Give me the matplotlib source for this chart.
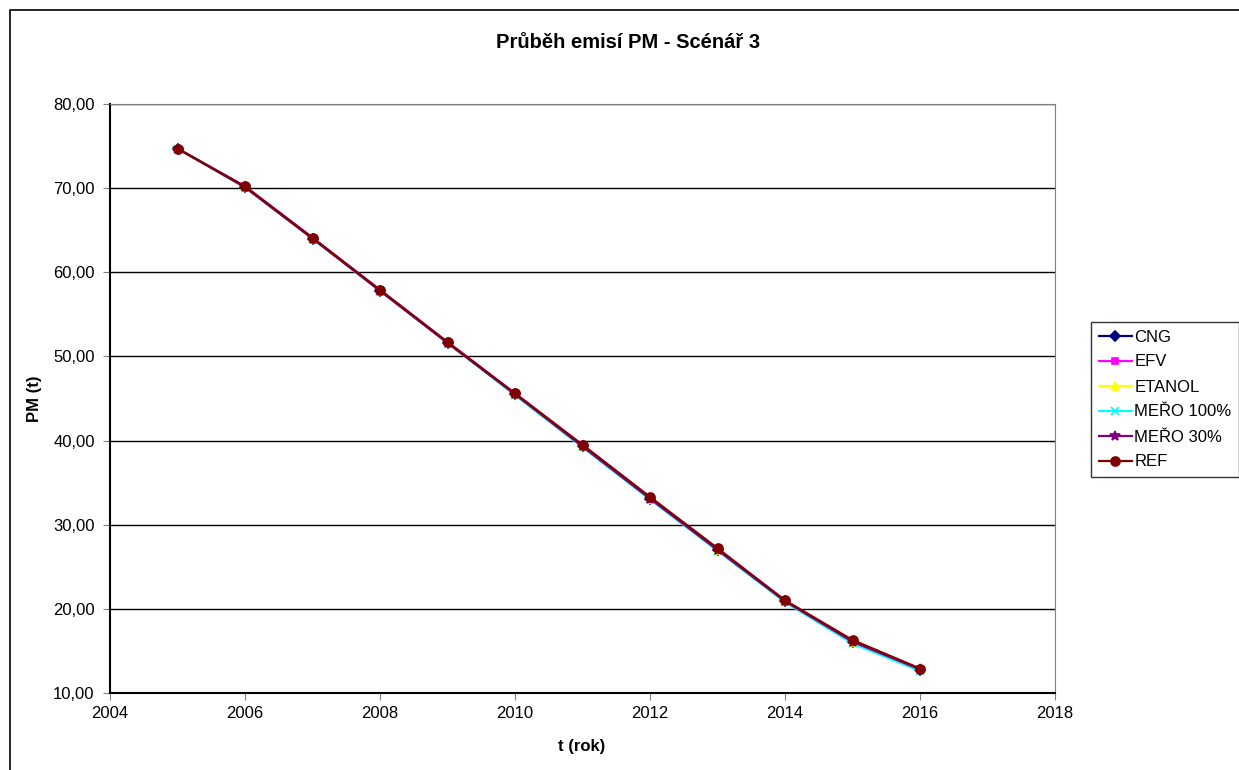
import matplotlib.pyplot as plt
from matplotlib.patches import Rectangle
from matplotlib.ticker import FuncFormatter, MultipleLocator

plt.rcParams['font.family'] = ['Liberation Sans', 'DejaVu Sans']

# emise PM podle paliva, scenar 3
roky = [2005, 2006, 2007, 2008, 2009, 2010, 2011, 2012, 2013, 2014, 2015, 2016]
cng = [74.7, 70.1, 64.0, 57.8, 51.6, 45.5, 39.3, 33.1, 27.0, 20.9, 16.1, 12.7]
efv = [74.7, 70.2, 64.1, 57.9, 51.7, 45.6, 39.4, 33.2, 27.1, 21.0, 16.2, 12.9]
etanol = [74.7, 70.1, 64.0, 57.8, 51.6, 45.5, 39.3, 33.1, 27.0, 20.9, 16.1, 12.8]
mero100 = [74.7, 70.1, 64.0, 57.8, 51.6, 45.4, 39.2, 33.0, 26.9, 20.8, 15.9, 12.6]
mero30 = [74.7, 70.1, 64.0, 57.8, 51.6, 45.5, 39.3, 33.1, 27.0, 20.9, 16.1, 12.8]
ref = [74.7, 70.2, 64.1, 57.9, 51.7, 45.6, 39.5, 33.3, 27.2, 21.0, 16.3, 12.9]

serie = [
    ('CNG', cng, '#000080', 'D', 5),
    ('EFV', efv, '#FF00FF', 's', 5),
    ('ETANOL', etanol, '#FFFF00', '^', 6),
    ('MEŘO 100%', mero100, '#00FFFF', 'x', 6),
    ('MEŘO 30%', mero30, '#800080', '*', 7),
    ('REF', ref, '#800000', 'o', 6.5),
]

fig = plt.figure(figsize=(12.39, 7.70), dpi=100)
ax = fig.add_axes([0.0888, 0.1, 0.7627, 0.765])

for nazev, hodnoty, barva, znacka, vel in serie:
    ax.plot(roky, hodnoty, color=barva, marker=znacka, markersize=vel,
            markeredgewidth=1.2, linewidth=1.6, label=nazev)

ax.set_xlim(2004, 2018)
ax.set_ylim(10, 80)
ax.xaxis.set_major_locator(MultipleLocator(2))
ax.yaxis.set_major_locator(MultipleLocator(10))
ax.yaxis.set_major_formatter(FuncFormatter(lambda v, p: f'{v:.2f}'.replace('.', ',')))
ax.grid(axis='y', color='black', linewidth=1)
ax.set_axisbelow(True)
ax.tick_params(direction='out', length=5, labelsize=12, color='#808080')
ax.tick_params(axis='y', pad=6)
ax.tick_params(axis='x', pad=4)

for s in ['top', 'right']:
    ax.spines[s].set_color('#808080')
for s in ['left', 'bottom']:
    ax.spines[s].set_color('black')
    ax.spines[s].set_linewidth(1.5)

fig.text(628 / 1239, 1 - 43 / 770, 'Průběh emisí PM - Scénář 3', fontsize=14.5,
         fontweight='bold', ha='center', va='center')
fig.text(582 / 1239, 1 - 747 / 770, 't (rok)', fontsize=12,
         fontweight='bold', ha='center', va='center')
fig.text(35 / 1239, 1 - 399 / 770, 'PM (t)', fontsize=12, rotation=90,
         fontweight='bold', ha='center', va='center')

leg = ax.legend(loc='upper left', bbox_to_anchor=(1091 / 1239, 1 - 322 / 770),
                bbox_transform=fig.transFigure, fontsize=12, frameon=True,
                fancybox=False, edgecolor='black', handlelength=2.0,
                handletextpad=0.15, borderaxespad=0, borderpad=0.45,
                labelspacing=0.6)
leg.get_frame().set_linewidth(1)

# ram grafu
fig.patches.append(Rectangle((10 / 1239, -0.1), 1.2, 0.1 + 760 / 770,
                             transform=fig.transFigure, fill=False,
                             edgecolor='black', linewidth=1.2))

fig.savefig('out.png', dpi=100, facecolor='white')
